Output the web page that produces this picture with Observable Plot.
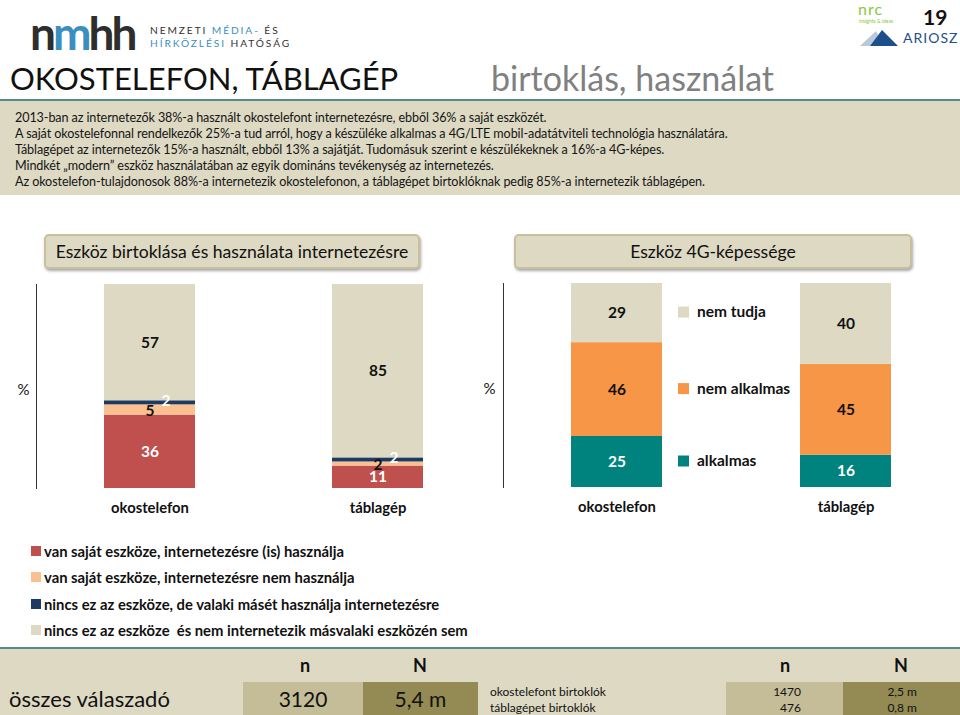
<!DOCTYPE html>
<html><head><meta charset="utf-8">
<script src="https://cdn.jsdelivr.net/npm/d3@7"></script>
<script src="https://cdn.jsdelivr.net/npm/@observablehq/plot@0.6"></script>
<style>
body{margin:0;}
#page{position:relative;width:960px;height:715px;overflow:hidden;background:#fff;font-family:Lato,"Open Sans",sans-serif;color:#111;}
.a{position:absolute;white-space:nowrap;}
.hbox{position:absolute;top:234px;height:31px;background:#ddd9c3;border:2px solid #c8c09c;border-radius:5px;box-shadow:1px 2px 3px rgba(0,0,0,.35);font-size:17.6px;line-height:31px;text-align:center;color:#111;}
.sq{position:absolute;width:10px;height:10px;}
.leg{position:absolute;font-size:14.8px;font-weight:700;white-space:nowrap;}
.cell{position:absolute;top:682px;height:33px;}
</style></head><body><div id="page"></div>
<script>
// ---- data ----
const categories = ["okostelefon", "táblagép"];
const ownSeries = [
  "van saját eszköze, internetezésre (is) használja",
  "van saját eszköze, internetezésre nem használja",
  "nincs ez az eszköze, de valaki másét használja internetezésre",
  "nincs ez az eszköze  és nem internetezik másvalaki eszközén sem"
];
const ownOkostelefon = [36, 5, 2, 57];
const ownTablagep = [11, 2, 2, 85];
const ownColors = ["#c0504d", "#fac090", "#1f3a60", "#ddd9c3"];

const g4Series = ["alkalmas", "nem alkalmas", "nem tudja"];
const g4Okostelefon = [25, 46, 29];
const g4Tablagep = [16, 45, 40];
const g4Colors = ["#00827f", "#f79646", "#ddd9c3"];

const infoLines = [
  "2013-ban az internetezők 38%-a használt okostelefont internetezésre, ebből 36% a saját eszközét.",
  "A saját okostelefonnal rendelkezők 25%-a tud arról, hogy a készüléke alkalmas a 4G/LTE mobil-adatátviteli technológia használatára.",
  "Táblagépet az internetezők  15%-a használt, ebből 13% a sajátját. Tudomásuk szerint e készülékeknek a 16%-a 4G-képes.",
  "Mindkét \u201emodern\u201d eszköz használatában az egyik domináns tevékenység az internetezés.",
  "Az okostelefon-tulajdonosok 88%-a internetezik okostelefonon, a táblagépet birtoklóknak pedig 85%-a internetezik táblagépen."
];
const panelTitles = ["Eszköz birtoklása és használata internetezésre", "Eszköz 4G-képessége"];
const tableHeaders = ["n", "N"];
const totalLabel = "összes válaszadó";
const totalN = "3120";
const totalPop = "5,4 m";
const ownerLabels = ["okostelefont birtoklók", "táblagépet birtoklók"];
const ownerN = ["1470", "476"];
const ownerPop = ["2,5 m", "0,8 m"];

// ---- layout ----
const page = document.getElementById("page");
function add(html){ page.insertAdjacentHTML("beforeend", html); }

// header / logos
add(`<div class="a" style="left:30px;top:6px;font-size:46px;font-weight:700;letter-spacing:-3px;color:#2e2e2e;line-height:54px">n<span style="color:#3a8fc0">m</span>hh</div>`);
add(`<div class="a" style="left:150px;top:24px;font-size:10.2px;letter-spacing:1.9px;color:#333;line-height:12.5px">NEMZETI <span style="color:#3a8fc0">MÉDIA-</span> ÉS<br><span style="color:#3a8fc0">HÍRKÖZLÉSI</span> HATÓSÁG</div>`);
add(`<div class="a" style="left:10px;top:58px;font-size:31px;color:#111;line-height:40px">OKOSTELEFON, TÁBLAGÉP</div>`);
add(`<div class="a" style="left:491px;top:56px;font-size:34px;color:#808080;line-height:44px">birtoklás, használat</div>`);
add(`<div class="a" style="left:858px;top:2px;font-size:16px;color:#8cc63f;letter-spacing:1px;line-height:14px">nrc</div>`);
add(`<div class="a" style="left:859px;top:19px;font-size:5px;color:#8cc63f;line-height:5px">insights &amp; ideas</div>`);
add(`<div class="a" style="left:923px;top:4px;font-size:21px;font-weight:700;color:#111;line-height:26px">19</div>`);
add(`<svg class="a" style="left:860px;top:28px" width="42" height="20"><polygon points="0,18 16,3 24,18" fill="#b9c9da"/><polygon points="10,18 22,2 38,18" fill="#1f4e8c"/></svg>`);
add(`<div class="a" style="left:903px;top:29px;font-size:14px;color:#1f4e8c;letter-spacing:1px;line-height:18px">ARIOSZ</div>`);

// info box
add(`<div class="a" style="left:0;top:99px;width:960px;height:96px;background:#ddd9c3;border-top:2px solid #4f8c8c;box-sizing:border-box"></div>`);
infoLines.forEach((t, i) => add(`<div class="a" style="left:15px;top:${110 + i*16}px;font-size:12.6px;line-height:16px;color:#151515;letter-spacing:-0.1px">${t}</div>`));

// panel headers
add(`<div class="hbox" style="left:44px;width:372px">${panelTitles[0]}</div>`);
add(`<div class="hbox" style="left:514px;width:394px">${panelTitles[1]}</div>`);

// ---- left chart ----
const ownData = categories.flatMap((c, i) => ownSeries.map((s, j) => ({cat: c, series: s, k: j, value: [ownOkostelefon, ownTablagep][i][j]})));
const lab = (k) => (d) => d.k === k ? d.value : null;
const stackOpt = (extra) => Plot.stackY({x: "cat", y: "value", z: "series", ...extra});
const textStyle = {fontSize: 15.5, fontWeight: 700};

const left = Plot.plot({
  width: 480, height: 250,
  marginLeft: 36, marginRight: 0, marginTop: 14, marginBottom: 32,
  style: {fontFamily: "Lato, sans-serif", background: "transparent", color: "#111", overflow: "visible"},
  x: {domain: categories, paddingInner: 0.601, paddingOuter: 0.274, align: 0.544, label: null},
  y: {domain: [0, 100], axis: null},
  color: {domain: ownSeries, range: ownColors},
  marks: [
    Plot.barY(ownData, {x: "cat", y: "value", fill: "series", z: "series"}),
    Plot.text(ownData, stackOpt({text: lab(0), fill: "white", ...textStyle})),
    Plot.text(ownData, stackOpt({text: lab(1), fill: "#111", dy: 1.5, ...textStyle})),
    Plot.text(ownData, stackOpt({text: lab(2), fill: "white", dx: 16, dy: -2, ...textStyle})),
    Plot.text(ownData, stackOpt({text: lab(3), fill: "#111", ...textStyle})),
    Plot.frame({anchor: "left", stroke: "#333"}),
    Plot.text(["%"], {frameAnchor: "left", dx: -19, dy: 4, fontSize: 15, fill: "#111"}),
    Plot.axisX({tickSize: 0, tickPadding: 14, fontSize: 14.8, fontWeight: 700, label: null})
  ]
});
left.style.position = "absolute"; left.style.left = "0px"; left.style.top = "270px";
page.appendChild(left);

// ---- right chart ----
const g4Data = categories.flatMap((c, i) => g4Series.map((s, j) => ({cat: c, series: s, k: j, value: [g4Okostelefon, g4Tablagep][i][j]})));
const st4 = (extra) => Plot.stackY({x: "cat", y: "value", z: "series", offset: "normalize", ...extra});
const right = Plot.plot({
  width: 480, height: 250,
  marginLeft: 23, marginRight: 0, marginTop: 13, marginBottom: 33,
  style: {fontFamily: "Lato, sans-serif", background: "transparent", color: "#111", overflow: "visible"},
  x: {domain: categories, paddingInner: 0.6026, paddingOuter: 0.299, align: 0.496, label: null},
  y: {domain: [0, 1], axis: null},
  color: {domain: g4Series, range: g4Colors},
  marks: [
    Plot.barY(g4Data, {x: "cat", y: "value", fill: "series", z: "series", offset: "normalize"}),
    Plot.text(g4Data, st4({text: lab(0), fill: "white", ...textStyle})),
    Plot.text(g4Data, st4({text: lab(1), fill: "#111", ...textStyle})),
    Plot.text(g4Data, st4({text: lab(2), fill: "#111", ...textStyle})),
    // series legend next to the first bar
    Plot.dot(g4Data, st4({filter: d => d.cat === categories[0], fill: "series", symbol: "square", r: 6.2, dx: 66.5, dy: -1})),
    Plot.text(g4Data, st4({filter: d => d.cat === categories[0], text: "series", textAnchor: "start", dx: 80, dy: -1, fill: "#111", ...textStyle})),
    Plot.frame({anchor: "left", stroke: "#333"}),
    Plot.text(["%"], {frameAnchor: "left", dx: -20, dy: 4, fontSize: 15, fill: "#111"}),
    Plot.axisX({tickSize: 0, tickPadding: 14, fontSize: 14.8, fontWeight: 700, label: null})
  ]
});
right.style.position = "absolute"; right.style.left = "480px"; right.style.top = "270px";
page.appendChild(right);

// ---- left legend ----
const legTops = [551, 577, 604, 630];
ownSeries.forEach((s, i) => {
  add(`<div class="sq" style="left:31px;top:${legTops[i]-5}px;background:${ownColors[i]}"></div>`);
  add(`<div class="leg" style="left:44px;top:${legTops[i]-10}px;line-height:20px">${s.replace(/  /g, " &nbsp;")}</div>`);
});

// ---- bottom table ----
add(`<div class="a" style="left:0;top:647px;width:960px;height:2px;background:#4f8c8c"></div>`);
add(`<div class="a" style="left:0;top:649px;width:960px;height:66px;background:#ddd9c3"></div>`);
[[305, tableHeaders[0]], [420, tableHeaders[1]], [785, tableHeaders[0]], [901, tableHeaders[1]]].forEach(([x, t]) =>
  add(`<div class="a" style="left:${x-20}px;width:40px;top:653px;text-align:center;font-size:18px;font-weight:700;line-height:24px">${t}</div>`));
add(`<div class="cell" style="left:243px;width:120px;background:#c4bd97"></div>`);
add(`<div class="cell" style="left:363px;width:115px;background:#948a54"></div>`);
add(`<div class="cell" style="left:726px;width:117px;background:#c4bd97"></div>`);
add(`<div class="cell" style="left:843px;width:117px;background:#948a54"></div>`);
add(`<div class="a" style="left:9px;top:684px;font-size:22px;line-height:30px">${totalLabel}</div>`);
add(`<div class="a" style="left:243px;width:120px;top:684px;text-align:center;font-size:21px;line-height:30px">${totalN}</div>`);
add(`<div class="a" style="left:363px;width:115px;top:684px;text-align:center;font-size:21px;line-height:30px">${totalPop}</div>`);
ownerLabels.forEach((t, i) => {
  add(`<div class="a" style="left:490px;top:${684 + i*16}px;font-size:12px;line-height:16px">${t}</div>`);
  add(`<div class="a" style="left:740px;width:61px;top:${684 + i*16}px;text-align:right;font-size:12px;line-height:16px">${ownerN[i]}</div>`);
  add(`<div class="a" style="left:850px;width:67px;top:${684 + i*16}px;text-align:right;font-size:12px;line-height:16px">${ownerPop[i]}</div>`);
});
</script></body></html>
